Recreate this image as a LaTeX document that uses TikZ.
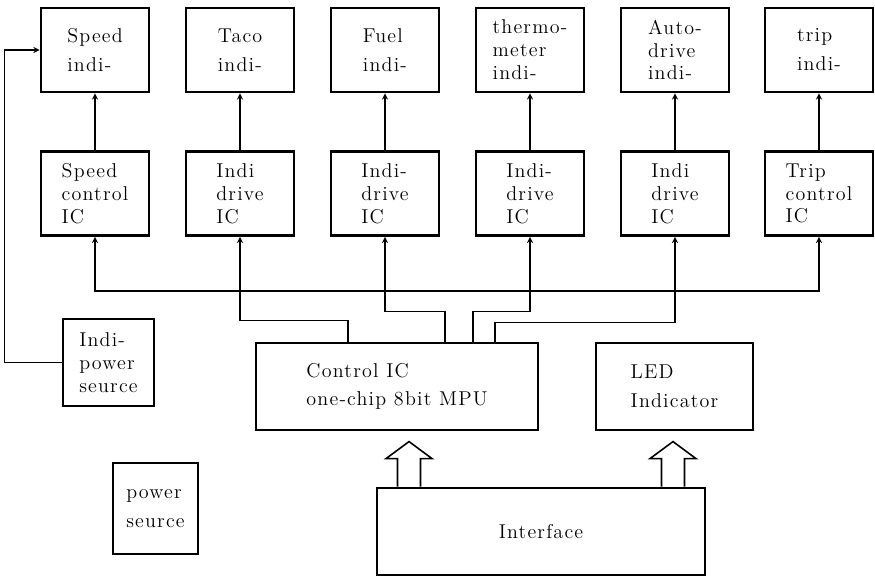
\documentclass[tikz,border=0pt]{standalone}
\usepackage{fontspec}
\setmainfont{Latin Modern Roman}[LetterSpace=6]
\usetikzlibrary{positioning, calc}

\begin{document}
\begin{tikzpicture}[
      x=0.02cm, y=0.02cm,
      every node/.style={font=\fontsize{11.4}{13}\selectfont, inner sep=0pt},
      unitbox/.style={draw, line width=1.6pt, minimum width=2.16cm,
                      minimum height=1.68cm, align=left},
      widebox/.style={draw, line width=1.6pt, minimum height=1.74cm, align=left},
      arr/.style={->, >=stealth, line width=0.6pt},
      darr/.style={<->, >=stealth, line width=0.6pt},
      hollow/.style={line width=0.9pt, line join=miter},
    ]
      \useasboundingbox (0,0) rectangle (875,577);
      % Top row: indicators
      \node[unitbox] (speedind) at (95, 527)  {Speed\\[3.5pt]indi-};
      \node[unitbox] (tacoind)  at (240, 527) {Taco\\[3.5pt]indi-};
      \node[unitbox] (fuelind)  at (385, 527) {Fuel\\[3.5pt]indi-};
      \node[unitbox] (thermind) at (530, 527) {thermo-\\meter\\indi-};
      \node[unitbox] (autoind)  at (675, 527) {Auto-\\drive\\indi-};
      \node[unitbox] (tripind)  at (819, 527) {trip\\[3.5pt]indi-};
      % Second row: driver ICs
      \node[unitbox] (speedic) at (95, 383.5)  {Speed\\control\\IC};
      \node[unitbox] (tacoic)  at (240, 383.5) {Indi\\drive\\IC};
      \node[unitbox] (fuelic)  at (385, 383.5) {Indi-\\drive\\IC};
      \node[unitbox] (thermic) at (530, 383.5) {Indi-\\drive\\IC};
      \node[unitbox] (autoic)  at (675, 383.5) {Indi\\drive\\IC};
      \node[unitbox] (tripic)  at (819, 383.5) {Trip\\control\\IC};
      % IC -> indicator arrows
      \foreach \n in {speed, taco, fuel, therm, auto, trip}
        \draw[arr] (\n ic) -- (\n ind);
      % Control and LED row
      \node[widebox, minimum width=5.64cm] (ctrl) at (397, 190.5)
        {Control IC\\[3pt]one-chip 8bit MPU};
      \node[widebox, minimum width=3.14cm] (led) at (674.5, 190.5)
        {LED\\[3.5pt]Indicator};
      \node[widebox, minimum width=1.82cm] (indipwr) at (108.5, 214.5)
        {Indi-\\power\\seurce};
      \node[widebox, minimum width=1.7cm, minimum height=1.82cm] (pwr) at (155.5, 68.5)
        {power\\[3.5pt]seurce};
      \node[widebox, minimum width=6.56cm] (iface) at (541, 45.5) {Interface};
      % Bus between speed and trip ICs
      \coordinate (bus) at (0, 286);
      \draw[darr] (speedic.south) -- (speedic.south |- bus)
        -- (tripic.south |- bus) -- (tripic.south);
      % Control IC -> driver ICs
      \draw[arr] ([xshift=-0.98cm]ctrl.north) -- ++(0,21) -| (tacoic.south);
      \draw[arr] ([xshift=0.96cm]ctrl.north) -- ++(0,30) -| (fuelic.south);
      \draw[arr] ([xshift=1.52cm]ctrl.north) -- ++(0,30) -| (thermic.south);
      \draw[arr] ([xshift=1.96cm]ctrl.north) -- ++(0,19) -| (autoic.south);
      % Indicator power -> speed indicator
      \draw[arr] (indipwr.west) -- ++(-57,0) |- (speedind.west);
      % Hollow arrows out of the interface
      \foreach \dx in {-2.64, 2.64}
        \draw[hollow] ([xshift=\dx cm]iface.north) ++(-11.5,0) -- ++(0,28)
          -- ++(-11.5,0) -- ++(23,17) -- ++(23,-17) -- ++(-11.5,0) -- ++(0,-28);
    \end{tikzpicture}
\end{document}
